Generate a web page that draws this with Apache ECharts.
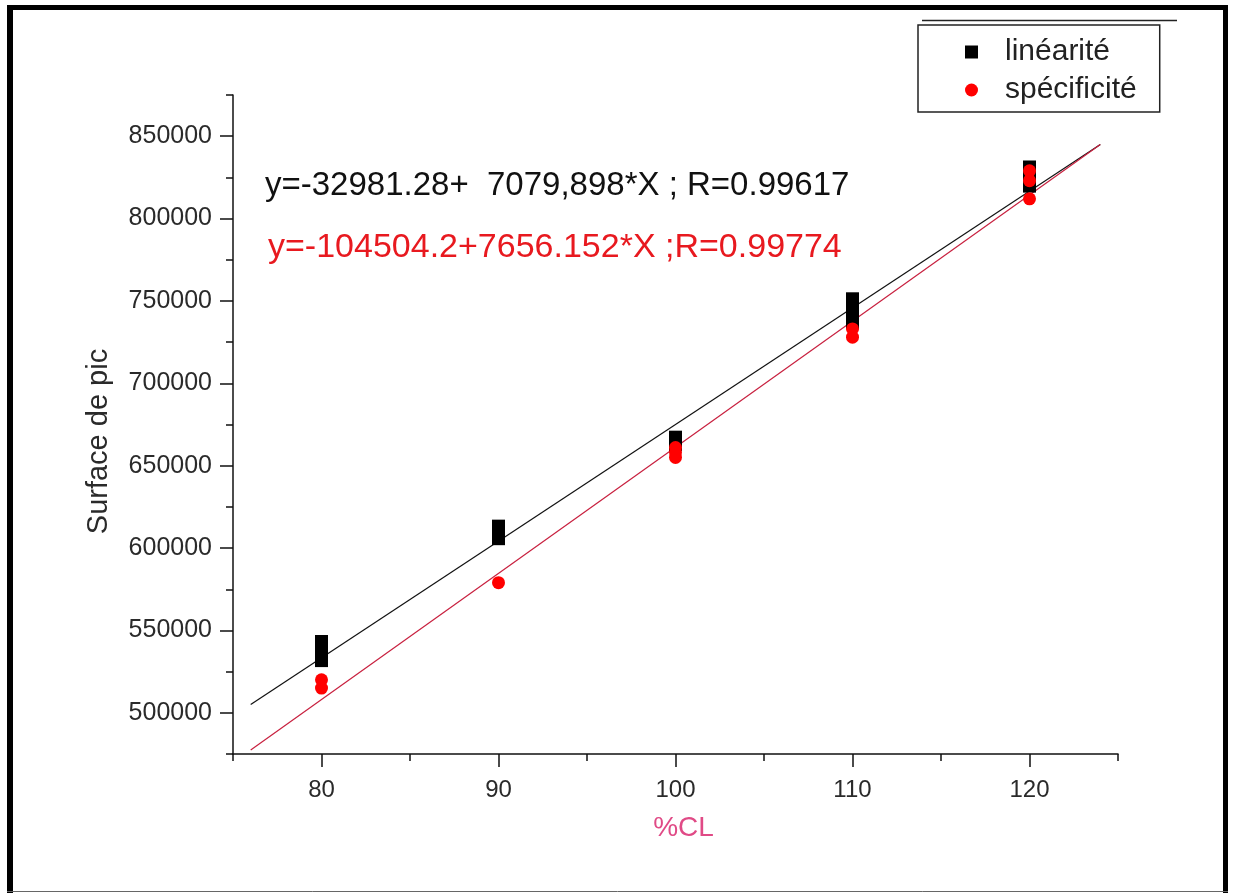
<!DOCTYPE html>
<html>
<head>
<meta charset="utf-8">
<script src="https://cdn.jsdelivr.net/npm/echarts@6/dist/echarts.min.js"></script>
<style>
html,body{margin:0;padding:0;background:#fff;}
#chart{width:1235px;height:893px;}
</style>
</head>
<body>
<div id="chart"></div>
<script>
// ---- data ----
const linX = [80, 80, 80, 90, 90, 100, 100, 110, 110, 110, 120, 120, 120];
const linY = [543000, 537000, 532000, 613000, 606000, 667000, 663000, 751000, 744000, 737000, 831000, 824000, 820000];
const specX = [80, 80, 90, 100, 100, 100, 110, 110, 120, 120, 120];
const specY = [520000, 515000, 579000, 661000, 658000, 655000, 733000, 728000, 829000, 823000, 812000];
const fitX = [76, 124];
const linFitY = [505100, 844900];
const specFitY = [477400, 844900];
const xMajor = [80, 90, 100, 110, 120];
const xMinor = [75, 85, 95, 105, 115, 125];
const yMajor = [500000, 550000, 600000, 650000, 700000, 750000, 800000, 850000];
const yMinor = [475000, 525000, 575000, 625000, 675000, 725000, 775000, 825000, 875000];
const names = ['linéarité', 'spécificité'];
const eqLin = 'y=-32981.28+  7079,898*X ; R=0.99617';
const eqSpec = 'y=-104504.2+7656.152*X ;R=0.99774';

const pairs = (xs, ys) => xs.map((x, i) => [x, ys[i]]);

const chart = echarts.init(document.getElementById('chart'), null, {renderer: 'canvas'});
const FONT = 'Liberation Sans, Arial, sans-serif';
const axisCommon = {
  axisLine: {show: true, onZero: false, lineStyle: {color: '#111', width: 1.5}},
  splitLine: {show: false}
};
chart.setOption({
  backgroundColor: '#fff',
  animation: false,
  grid: {left: 233, top: 95, width: 885, height: 659, containLabel: false},
  legend: {
    data: [{name: names[0], icon: 'rect'}, {name: names[1], icon: 'circle'}],
    orient: 'vertical', left: 918, top: 25,
    padding: [12, 23, 7, 47],
    itemWidth: 13, itemHeight: 13, itemGap: 8,
    borderColor: '#222', borderWidth: 1.5,
    textStyle: {fontFamily: FONT, fontSize: 30, color: '#222', padding: [0, 0, 0, 22]}
  },
  xAxis: [
    Object.assign({}, axisCommon, {
      type: 'value', min: 75, max: 125,
      name: '%CL', nameLocation: 'middle', nameGap: 60,
      nameTextStyle: {fontFamily: FONT, fontSize: 28, color: '#e04a86', padding: [0, 0, 0, 16]},
      axisTick: {show: true, inside: false, length: 13, customValues: xMajor, lineStyle: {color: '#111', width: 1.5}},
      axisLabel: {customValues: xMajor, margin: 24, fontFamily: FONT, fontSize: 24, color: '#2a2a2a'}
    }),
    {
      type: 'value', min: 75, max: 125, position: 'bottom', gridIndex: 0,
      axisLine: {show: false}, splitLine: {show: false}, axisLabel: {show: false},
      axisTick: {show: true, inside: false, length: 7, customValues: xMinor, lineStyle: {color: '#111', width: 1.5}}
    }
  ],
  yAxis: [
    Object.assign({}, axisCommon, {
      type: 'value', min: 475000, max: 875000,
      name: 'Surface de pic', nameLocation: 'middle', nameGap: 120,
      nameTextStyle: {fontFamily: FONT, fontSize: 29, color: '#2a2a2a', padding: [0, 34, 0, 0]},
      axisTick: {show: true, inside: false, length: 13, customValues: yMajor, lineStyle: {color: '#111', width: 1.5}},
      axisLabel: {customValues: yMajor, margin: 21, fontFamily: FONT, fontSize: 25, color: '#2a2a2a',
        formatter: v => String(v)}
    }),
    {
      type: 'value', min: 475000, max: 875000, position: 'left', offset: 0,
      axisLine: {show: false}, splitLine: {show: false}, axisLabel: {show: false},
      axisTick: {show: true, inside: false, length: 7, customValues: yMinor, lineStyle: {color: '#111', width: 1.5}}
    }
  ],
  series: [
    {
      name: 'fitLin', type: 'line', data: pairs(fitX, linFitY), showSymbol: false, symbol: 'none',
      lineStyle: {color: '#111', width: 1.2}, z: 3, silent: true
    },
    {
      name: 'fitSpec', type: 'line', data: pairs(fitX, specFitY), showSymbol: false, symbol: 'none',
      lineStyle: {color: '#c8203f', width: 1.2}, z: 3, silent: true
    },
    {
      name: names[0], type: 'scatter', data: pairs(linX, linY), symbol: 'rect', symbolSize: [13, 14],
      itemStyle: {color: '#000', opacity: 1}, z: 4
    },
    {
      name: names[1], type: 'scatter', data: pairs(specX, specY), symbol: 'circle', symbolSize: 13,
      itemStyle: {color: '#f00', opacity: 1}, z: 5
    }
  ],
  graphic: [
    {type: 'rect', shape: {x: 7, y: 5, width: 6, height: 888}, style: {fill: '#000'}},
    {type: 'rect', shape: {x: 7, y: 5, width: 1221, height: 5}, style: {fill: '#000'}},
    {type: 'rect', shape: {x: 1223, y: 5, width: 5, height: 888}, style: {fill: '#000'}},
    {type: 'line', shape: {x1: 7, y1: 891.5, x2: 1228, y2: 891.5}, style: {stroke: '#666', lineWidth: 1}},
    {type: 'line', shape: {x1: 922, y1: 20.5, x2: 1177, y2: 20.5}, style: {stroke: '#222', lineWidth: 1.5}},
    {type: 'text', left: 265, top: 169, style: {text: eqLin, fill: '#111', font: '33px ' + FONT}},
    {type: 'text', left: 268, top: 231, style: {text: eqSpec, fill: '#e8191f', font: '34px ' + FONT}}
  ]
});
</script>
</body>
</html>
